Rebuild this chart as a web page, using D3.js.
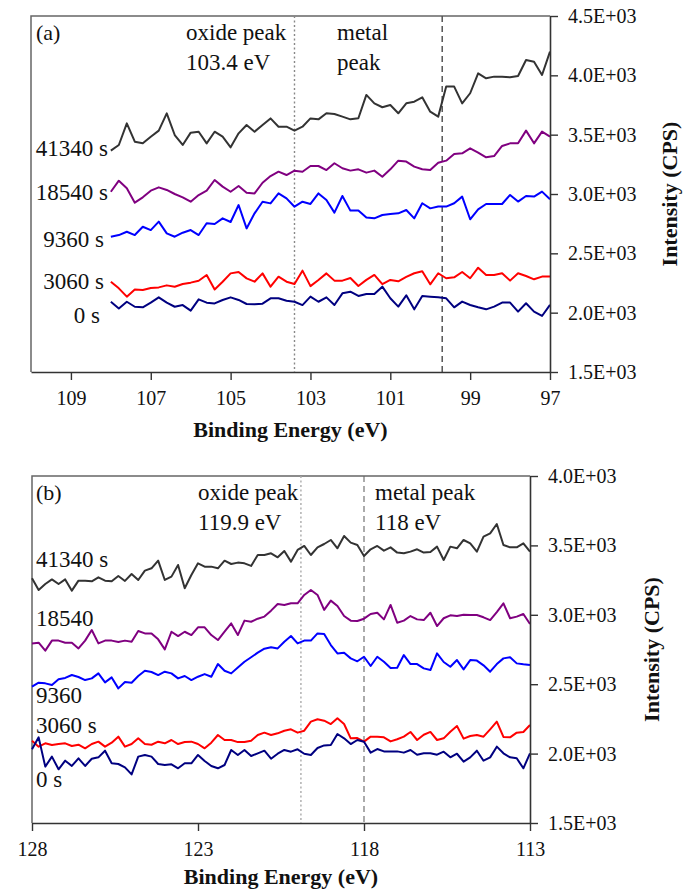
<!DOCTYPE html>
<html>
<head>
<meta charset="utf-8">
<script src="https://cdn.jsdelivr.net/npm/d3@7"></script>
<style>
  body { margin: 0; background: #fff; }
  svg text { font-family: "Liberation Serif", "Times New Roman", Times, "DejaVu Serif", serif; fill: #111; }
</style>
</head>
<body>
<div id="chart"></div>
<script>
// ---- data: panel (a) ----
var energyA = [108.0, 107.8, 107.6, 107.4, 107.2, 107.0, 106.8, 106.6, 106.4, 106.2, 106.0, 105.8, 105.6, 105.4,
  105.2, 105.0, 104.8, 104.6, 104.4, 104.2, 104.0, 103.8, 103.6, 103.4, 103.2, 103.0, 102.8, 102.6,
  102.4, 102.2, 102.0, 101.8, 101.6, 101.4, 101.2, 101.0, 100.8, 100.6, 100.4, 100.2, 100.0, 99.8,
  99.6, 99.4, 99.2, 99.0, 98.8, 98.6, 98.4, 98.2, 98.0, 97.8, 97.6, 97.4, 97.2, 97.0];

var a41340 = [3365, 3413, 3595, 3441, 3427, 3483, 3534, 3680, 3497, 3413, 3517, 3525, 3427, 3525,
  3483, 3393, 3511, 3581, 3525, 3581, 3637, 3567, 3567, 3534, 3567, 3637, 3629, 3680,
  3674, 3652, 3629, 3638, 3835, 3764, 3731, 3750, 3680, 3764, 3778, 3815, 3694, 3652,
  3905, 3905, 3764, 3849, 4017, 3975, 3989, 3989, 3983, 3995, 4129, 4115, 4003, 4200];
var a18540 = [3019, 3112, 3048, 2927, 2972, 3028, 3056, 3034, 3000, 2972, 2935, 2991, 3028, 3118,
  3062, 3019, 3067, 3011, 3005, 3095, 3151, 3188, 3160, 3196, 3188, 3236, 3236, 3202,
  3259, 3217, 3197, 3208, 3180, 3197, 3146, 3208, 3281, 3273, 3231, 3208, 3203, 3264,
  3281, 3337, 3343, 3385, 3349, 3309, 3320, 3405, 3427, 3427, 3534, 3427, 3526, 3483];
var a9360 = [2640, 2654, 2682, 2654, 2724, 2696, 2767, 2668, 2640, 2674, 2696, 2654, 2753, 2747,
  2795, 2764, 2907, 2710, 2837, 2935, 2921, 3005, 2963, 2893, 2935, 2916, 3005, 2949,
  2843, 2983, 2860, 2860, 2801, 2795, 2823, 2832, 2837, 2865, 2795, 2922, 2879, 2894,
  2894, 2922, 2978, 2787, 2871, 2916, 2916, 2916, 2992, 2936, 2983, 2978, 3020, 2955];
var a3060 = [2261, 2205, 2135, 2196, 2191, 2208, 2213, 2230, 2219, 2241, 2253, 2269, 2317, 2196,
  2261, 2331, 2342, 2289, 2261, 2331, 2219, 2303, 2261, 2241, 2354, 2224, 2275, 2331,
  2270, 2270, 2292, 2225, 2276, 2318, 2240, 2276, 2264, 2301, 2332, 2349, 2239, 2332,
  2290, 2298, 2343, 2290, 2379, 2318, 2318, 2332, 2270, 2332, 2309, 2281, 2304, 2304];
var a0 = [2092, 2036, 2092, 2050, 2045, 2084, 2129, 2084, 2050, 2064, 2017, 2112, 2084, 2078,
  2107, 2129, 2107, 2073, 2070, 2076, 2121, 2121, 2101, 2092, 2064, 2135, 2092, 2129,
  2065, 2163, 2177, 2141, 2158, 2158, 2219, 2121, 2051, 2146, 2028, 2141, 2135, 2130,
  2121, 2045, 2093, 2065, 2045, 2028, 2051, 2085, 2085, 2009, 2079, 2009, 1972, 2065];

// ---- data: panel (b) ----
var energyB = [128.0, 127.8, 127.6, 127.4, 127.2, 127.0, 126.8, 126.6, 126.4, 126.2, 126.0, 125.8, 125.6,
  125.4, 125.2, 125.0, 124.8, 124.6, 124.4, 124.2, 124.0, 123.8, 123.6, 123.4, 123.2, 123.0,
  122.8, 122.6, 122.4, 122.2, 122.0, 121.8, 121.6, 121.4, 121.2, 121.0, 120.8, 120.6, 120.4,
  120.2, 120.0, 119.8, 119.6, 119.4, 119.2, 119.0, 118.8, 118.6, 118.4, 118.2, 118.0, 117.8,
  117.6, 117.4, 117.2, 117.0, 116.8, 116.6, 116.4, 116.2, 116.0, 115.8, 115.6, 115.4, 115.2,
  115.0, 114.8, 114.6, 114.4, 114.2, 114.0, 113.8, 113.6, 113.4, 113.2, 113.0];

var b41340 = [3263, 3179, 3222, 3255, 3222, 3255, 3174, 3246, 3246, 3241, 3270, 3246, 3241, 3280,
  3244, 3294, 3251, 3318, 3335, 3390, 3251, 3275, 3359, 3191, 3287, 3371, 3347, 3347, 3335,
  3390, 3366, 3376, 3371, 3352, 3431, 3431, 3443, 3414, 3460,
  3383, 3467, 3496, 3431, 3486, 3510, 3539, 3479, 3568, 3520, 3503, 3424, 3472, 3496, 3462,
  3486, 3448, 3443, 3455, 3472, 3448, 3452, 3491, 3395, 3491, 3479, 3539, 3515, 3455, 3563,
  3587, 3654, 3503, 3486, 3486, 3515, 3455];
var b18540 = [2794, 2799, 2742, 2814, 2814, 2799, 2799, 2758, 2814, 2890, 2794, 2814, 2814, 2804,
  2814, 2806, 2883, 2866, 2866, 2823, 2751, 2878, 2847, 2878, 2854, 2910, 2910, 2854, 2818,
  2878, 2938, 2854, 2958, 2950, 2972, 2987, 3030, 3078, 3071,
  3083, 3083, 3143, 3179, 3143, 3035, 3102, 3063, 2991, 2958, 2955, 2972, 3006, 3015, 2967,
  3071, 2943, 2958, 2991, 2967, 2962, 3015, 2919, 2975, 2996, 2991, 3001, 2999, 2999, 2982,
  2962, 3020, 3083, 2975, 2987, 3006, 2934];
var b9360 = [2482, 2511, 2506, 2494, 2535, 2545, 2566, 2552, 2530, 2542, 2578, 2513, 2549, 2470,
  2516, 2511, 2559, 2597, 2588, 2566, 2590, 2578, 2542, 2559, 2530, 2554, 2573, 2554, 2645,
  2597, 2578, 2621, 2662, 2694, 2727, 2756, 2766, 2758, 2806,
  2847, 2794, 2814, 2814, 2866, 2862, 2782, 2722, 2727, 2686, 2665, 2698, 2631, 2698, 2662,
  2617, 2619, 2710, 2645, 2645, 2614, 2602, 2722, 2660, 2626, 2674, 2607, 2674, 2670, 2636,
  2590, 2645, 2686, 2694, 2650, 2643, 2638];
var b3060 = [2093, 2050, 2074, 2062, 2069, 2074, 2055, 2064, 2038, 2069, 2086, 2050, 2079, 2122,
  2050, 2069, 2110, 2069, 2064, 2086, 2074, 2098, 2069, 2083, 2086, 2069, 2038, 2079, 2134,
  2098, 2098, 2083, 2083, 2093, 2134, 2151, 2134, 2146, 2165,
  2175, 2151, 2165, 2230, 2247, 2237, 2213, 2254, 2213, 2110, 2112, 2086, 2122, 2122, 2117,
  2088, 2103, 2122, 2156, 2098, 2136, 2156, 2098, 2110, 2158, 2199, 2108, 2127, 2134, 2122,
  2175, 2230, 2120, 2117, 2151, 2156, 2206];
var b0 = [2031, 2117, 1906, 1978, 1887, 1949, 1911, 1966, 1911, 1963, 1973, 2021, 1930, 1925,
  1901, 1850, 1978, 1990, 1978, 1925, 1918, 1923, 1894, 1930, 1930, 1990, 1947, 1911, 1894,
  1918, 2026, 1990, 2026, 1983, 2002, 2021, 1963, 1999, 2026,
  2014, 2031, 1999, 1990, 2040, 2059, 2062, 2141, 2110, 2069, 2098, 2086, 2007, 2033, 2016,
  2016, 2016, 2007, 2026, 1992, 2002, 2002, 1992, 2014, 1973, 1999, 1942, 1973, 2021, 1949,
  1973, 2050, 2002, 1973, 1966, 1894, 2002];

var seriesNamesA = ["41340 s", "18540 s", "9360 s", "3060 s", "0 s"];
var seriesNamesB = ["41340 s", "18540", "9360", "3060 s", "0 s"];
var colors = ["#333333", "#800080", "#0000ff", "#ff0000", "#000080"];

var xTicksA = [109, 107, 105, 103, 101, 99, 97];
var xTicksB = [128, 123, 118, 113];
var yTicksA = [1500, 2000, 2500, 3000, 3500, 4000, 4500];
var yTicksB = [1500, 2000, 2500, 3000, 3500, 4000];
var peaksA = [103.4, 99.7];   // oxide, metal
var peaksB = [119.9, 118.0];

var svgWidth = 697;
var svgHeight = 892;
var serif = "'Liberation Serif', 'Times New Roman', Times, 'DejaVu Serif', serif";

var svg = d3.select("#chart")
  .append("svg")
  .attr("width", svgWidth)
  .attr("height", svgHeight);

svg.append("rect").attr("width", svgWidth).attr("height", svgHeight).attr("fill", "#fff");

function drawPanel(p) {
  var x = d3.scaleLinear().domain(p.xDomain).range([p.left, p.right]);
  var y = d3.scaleLinear().domain(p.yDomain).range([p.bottom, p.top]);
  var g = svg.append("g").attr("font-family", serif);

  // frame (left + top edges)
  g.append("path")
    .attr("d", `M${p.left},${p.bottom}V${p.top}H${p.right}`)
    .attr("fill", "none")
    .attr("stroke", "#666")
    .attr("stroke-width", 1.5);

  // peak markers
  g.append("line")
    .attr("x1", x(p.peaks[0])).attr("x2", x(p.peaks[0]))
    .attr("y1", p.top).attr("y2", p.bottom)
    .attr("stroke", p.dotColor).attr("stroke-width", 1.4)
    .attr("stroke-dasharray", "2,2.5");
  g.append("line")
    .attr("x1", x(p.peaks[1])).attr("x2", x(p.peaks[1]))
    .attr("y1", p.top).attr("y2", p.bottom)
    .attr("stroke", p.dashColor).attr("stroke-width", p.dashWidth)
    .attr("stroke-dasharray", "6,4");

  // series
  var line = d3.line()
    .x((d, i) => x(p.energy[i]))
    .y(d => y(d));

  p.series.forEach(function(s, i) {
    g.append("path")
      .datum(s)
      .attr("fill", "none")
      .attr("stroke", colors[i])
      .attr("stroke-width", 2)
      .attr("stroke-linejoin", "round")
      .attr("d", line);
  });

  // axes
  var bottomAxis = d3.axisBottom(x).tickValues(p.xTicks).tickSize(8).tickSizeOuter(0).tickPadding(11)
    .tickFormat(d3.format("d"));
  var rightAxis = d3.axisRight(y).tickValues(p.yTicks).tickSize(8).tickSizeOuter(0).tickPadding(10)
    .tickFormat(d => (d / 1000).toFixed(1) + "E+03");

  var bx = g.append("g").attr("transform", `translate(0, ${p.bottom})`).call(bottomAxis);
  var ry = g.append("g").attr("transform", `translate(${p.right}, 0)`).call(rightAxis);
  [bx, ry].forEach(function(a) {
    a.attr("font-family", serif).attr("font-size", 20);
    a.select(".domain").attr("stroke", "#333").attr("stroke-width", 1.6);
    a.selectAll(".tick line").attr("stroke", "#333").attr("stroke-width", 1.4);
    a.selectAll(".tick text").attr("fill", "#111");
  });

  // series labels
  p.names.forEach(function(n, i) {
    g.append("text")
      .attr("x", p.labelSpots[i][0])
      .attr("y", p.labelSpots[i][1])
      .attr("text-anchor", p.labelAnchor)
      .attr("font-size", 23)
      .text(n);
  });

  // annotations
  p.notes.forEach(function(n) {
    g.append("text")
      .attr("x", n[1]).attr("y", n[2])
      .attr("font-size", n[3])
      .text(n[0]);
  });

  // axis titles
  g.append("text")
    .attr("x", (p.left + p.right) / 2)
    .attr("y", p.xTitleY)
    .attr("text-anchor", "middle")
    .attr("font-weight", "bold")
    .attr("font-size", 22)
    .text("Binding Energy (eV)");

  g.append("text")
    .attr("transform", `translate(${p.yTitleX}, ${(p.top + p.bottom) / 2}) rotate(-90)`)
    .attr("text-anchor", "middle")
    .attr("font-weight", "bold")
    .attr("font-size", 22)
    .text("Intensity (CPS)");
}

drawPanel({
  left: 31, right: 550, top: 16, bottom: 372,
  xDomain: [110, 97], yDomain: [1500, 4500],
  energy: energyA,
  series: [a41340, a18540, a9360, a3060, a0],
  names: seriesNamesA,
  xTicks: xTicksA, yTicks: yTicksA,
  peaks: peaksA, dotColor: "#888", dashColor: "#555", dashWidth: 1.5,
  labelAnchor: "end",
  labelSpots: [[108, 156], [108, 200], [104, 247], [104, 289], [100, 323]],
  notes: [["(a)", 36, 40, 22], ["oxide peak", 186, 40, 23], ["103.4 eV", 186, 70, 23],
          ["metal", 337, 40, 23], ["peak", 337, 70, 23]],
  xTitleY: 437, yTitleX: 677
});

drawPanel({
  left: 32, right: 530, top: 476, bottom: 823,
  xDomain: [128, 113], yDomain: [1500, 4000],
  energy: energyB,
  series: [b41340, b18540, b9360, b3060, b0],
  names: seriesNamesB,
  xTicks: xTicksB, yTicks: yTicksB,
  peaks: peaksB, dotColor: "#aaa", dashColor: "#666", dashWidth: 1.1,
  labelAnchor: "start",
  labelSpots: [[36, 567], [36, 626], [36, 703], [36, 733], [36, 787]],
  notes: [["(b)", 36, 500, 22], ["oxide peak", 198, 500, 23], ["119.9 eV", 198, 530, 23],
          ["metal peak", 375, 500, 23], ["118 eV", 375, 530, 23]],
  xTitleY: 884, yTitleX: 659
});
</script>
</body>
</html>
